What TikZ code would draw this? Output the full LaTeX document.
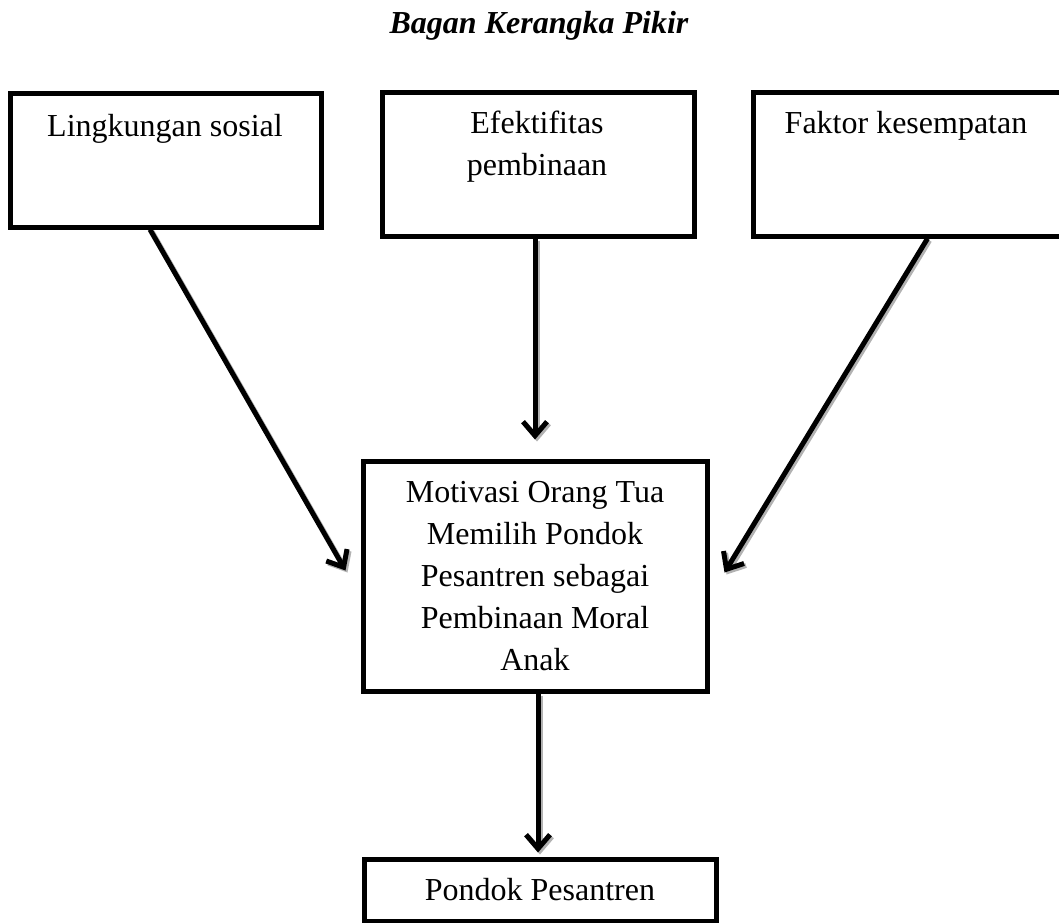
\documentclass[tikz,border=0pt]{standalone}
\usepackage{fontspec}
\setmainfont{Liberation Serif}
\usetikzlibrary{arrows.meta}
\tikzset{
  box/.style={draw=black, line width=2.5pt, rectangle, inner sep=0pt, align=center},
  lbl/.style={inner sep=0pt, align=center, font=\fontsize{16pt}{21pt}\selectfont},
  link/.style={line width=2.5pt, -{Straight Barb[length=7pt,width=12pt]},
    preaction={draw=gray!60, line width=2.5pt, transform canvas={shift={(1pt,-1pt)}}}},
}
\begin{document}
\begin{tikzpicture}[x=0.5pt,y=-0.5pt]
\useasboundingbox (0,0) rectangle (1059,922);

\node[lbl, anchor=base] (title) at (539,33) {\bfseries\itshape Bagan Kerangka Pikir};

\node[box, minimum width=155.5pt, minimum height=67pt] (b1) at (165.5,160) {};
\node[box, minimum width=156pt, minimum height=72pt] (b2) at (538,164) {};
\node[box, minimum width=158.5pt, minimum height=72pt] (b3) at (911.5,164) {};
\node[box, minimum width=172pt, minimum height=115pt, font=\fontsize{16pt}{21pt}\selectfont] (mid) at (535,576)
  {Motivasi Orang Tua\\Memilih Pondok\\Pesantren sebagai\\Pembinaan Moral\\Anak};
\node[box, minimum width=176pt, minimum height=31pt, font=\fontsize{16pt}{21pt}\selectfont] (bot) at (540,890)
  {Pondok Pesantren};

\node[lbl, anchor=base] (t1) at (165,136) {Lingkungan sosial};
\node[lbl, anchor=north] (t2) at (537,111) {Efektifitas\\pembinaan};
\node[lbl, anchor=base] (t3) at (906,133) {Faktor kesempatan};

\draw[link] ([xshift=-7.75pt]b1.south) -- ([xshift=-7.5pt,yshift=-56pt]mid.north west);
\draw[link] ([xshift=-1.5pt]b2.south) -- ([xshift=-1.5pt,yshift=9.5pt]b2.south |- mid.north);
\draw[link] ([xshift=88.5pt]b3.south west) -- ([xshift=7.5pt,yshift=-57pt]mid.north east);
\draw[link] ([xshift=1.5pt]mid.south) -- ([xshift=1.5pt,yshift=2pt]mid.south |- bot.north);
\end{tikzpicture}
\end{document}
